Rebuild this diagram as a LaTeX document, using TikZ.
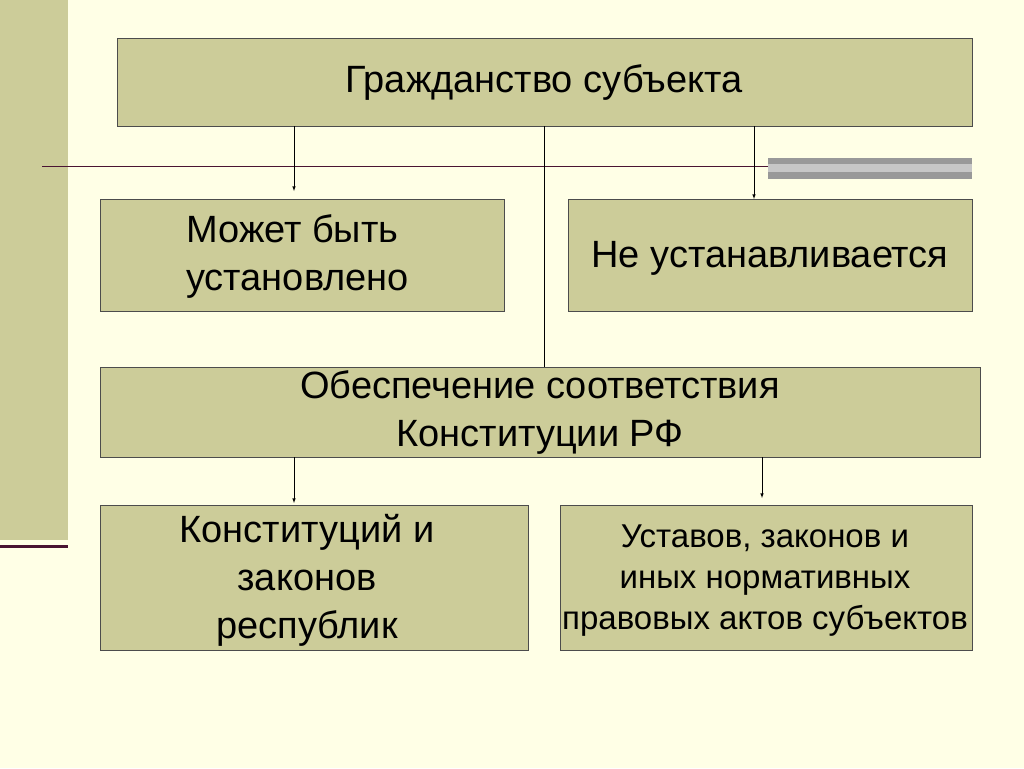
\documentclass[tikz,border=0pt]{standalone}
\usepackage{fontspec}
\setmainfont{Liberation Sans}
\usetikzlibrary{positioning}
\definecolor{bgcream}{HTML}{FFFFE6}
\definecolor{olive}{HTML}{CCCC99}
\definecolor{maroon}{HTML}{4A1432}
\tikzset{
  box/.style={draw=black!70, fill=olive, line width=0.8pt},
  arr/.style={-latex, line width=0.6pt},
  txt/.style={align=center, inner sep=0pt, font=\fontsize{38}{48}\selectfont},
}
\begin{document}
\begin{tikzpicture}[x=1pt, y=-1pt]
  \fill[bgcream] (0,0) rectangle (1024,768);
  \useasboundingbox (0,0) rectangle (1024,768);
  % left strip and rules
  \fill[olive] (0,0) rectangle (68,540);
  \draw[maroon, line width=3pt] (0,546) -- (68,546);
  \draw[maroon, line width=1pt] (42,166) -- (972,166);
  \fill[black!40] (768,158) rectangle (972,179);
  \fill[black!22] (768,164) rectangle (972,172);
  % boxes
  \draw[box] (117,38) rectangle (972,126);
  \draw[box] (100,199) rectangle (504,311);
  \draw[box] (568,199) rectangle (972,311);
  \draw[box] (100,367) rectangle (980,457);
  \draw[box] (100,505) rectangle (528,650);
  \draw[box] (560,505) rectangle (972,650);
  % texts
  \node[txt] (cit) at (544,83) {Гражданство субъекта};
  \node[txt, align=left, anchor=west] (may) at (186,257) {Может быть\\установлено};
  \node[txt] (not) at (770,258) {Не устанавливается};
  \node[txt] (conf) at (540,413) {Обеспечение соответствия\\Конституции РФ};
  \node[txt] (rep) at (307,580) {Конституций и\\законов\\республик};
  \node[txt, font=\fontsize{33}{41}\selectfont] (subj) at (765,581) {Уставов, законов и\\иных нормативных\\правовых актов субъектов};
  % connectors
  \coordinate (c1) at (294,126); \coordinate (c2) at (294,191);
  \coordinate (c3) at (754,126); \coordinate (c4) at (754,199);
  \coordinate (c5) at (544,126); \coordinate (c6) at (544,367);
  \coordinate (c7) at (294,457); \coordinate (c8) at (294,503);
  \coordinate (c9) at (762,457); \coordinate (c10) at (762,498);
  \draw[arr] (c1) -- (c2);
  \draw[arr] (c3) -- (c4);
  \draw[line width=0.6pt] (c5) -- (c6);
  \draw[arr] (c7) -- (c8);
  \draw[arr] (c9) -- (c10);
\end{tikzpicture}
\end{document}
